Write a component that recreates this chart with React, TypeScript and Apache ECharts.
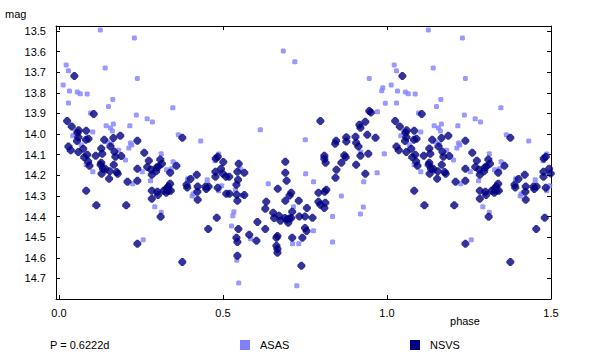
import React, { useEffect, useRef } from "react";
import * as echarts from "echarts";

// ASAS observations: [phase, magnitude] (phase 0..1)
const asasPoints: [number, number][] = [
  [0.126, 13.495], [0.230, 13.534], [0.022, 13.665], [0.029, 13.693], [0.141, 13.680], [0.239, 13.731],
  [0.013, 13.762], [0.032, 13.791], [0.056, 13.796], [0.065, 13.804], [0.086, 13.806], [0.029, 13.850],
  [0.164, 13.833], [0.151, 13.867], [0.236, 13.908], [0.096, 13.898], [0.144, 13.960], [0.166, 13.951],
  [0.157, 13.971], [0.163, 13.985], [0.216, 13.960], [0.042, 14.008], [0.050, 13.990], [0.103, 13.990],
  [0.068, 14.053], [0.148, 14.039], [0.160, 14.047], [0.218, 14.044], [0.222, 14.053], [0.213, 14.068],
  [0.182, 14.078], [0.203, 14.126], [0.083, 14.149], [0.103, 14.183], [0.144, 14.181], [0.225, 14.241],
  [0.347, 13.872], [0.269, 13.926], [0.285, 13.942], [0.364, 14.003], [0.432, 14.034], [0.312, 14.095],
  [0.254, 14.183], [0.348, 14.134], [0.328, 14.173], [0.343, 14.168], [0.279, 14.227], [0.392, 14.217],
  [0.452, 14.222], [0.487, 14.097], [0.476, 14.129], [0.496, 14.251], [0.487, 14.275], [0.410, 14.290],
  [0.406, 14.301], [0.292, 14.353], [0.312, 14.379], [0.257, 14.513],
  [0.684, 13.597], [0.719, 13.649], [0.614, 13.979], [0.751, 14.028], [0.752, 14.193], [0.553, 14.168],
  [0.538, 14.270], [0.559, 14.298], [0.638, 14.241], [0.533, 14.377], [0.530, 14.396], [0.526, 14.446],
  [0.584, 14.508], [0.715, 14.353], [0.712, 14.532], [0.731, 14.532], [0.542, 14.612], [0.548, 14.722],
  [0.725, 14.736],
  [0.946, 13.731], [0.987, 13.775], [0.984, 13.790], [0.995, 13.851], [0.971, 13.892], [0.920, 14.087],
  [0.992, 14.095], [0.970, 14.188], [0.929, 14.231], [0.776, 14.231], [0.861, 14.301], [0.928, 14.354],
  [0.919, 14.388], [0.834, 14.400], [0.776, 14.469], [0.834, 14.523],
];

// NSVS observations: [phase, magnitude] (phase 0..1)
const nsvsPoints: [number, number][] = [
  [0.047, 13.718], [0.106, 13.903], [0.025, 13.937], [0.039, 13.964], [0.060, 13.982], [0.057, 13.994],
  [0.083, 13.984], [0.059, 14.015], [0.055, 14.034], [0.082, 14.028], [0.090, 14.023], [0.138, 14.028],
  [0.166, 14.019], [0.187, 14.008], [0.239, 14.032], [0.029, 14.061], [0.036, 14.078], [0.074, 14.071],
  [0.059, 14.087], [0.129, 14.070], [0.157, 14.061], [0.132, 14.095], [0.169, 14.086], [0.086, 14.100],
  [0.077, 14.112], [0.112, 14.105], [0.172, 14.110], [0.190, 14.107], [0.089, 14.133], [0.093, 14.154],
  [0.129, 14.139], [0.127, 14.149], [0.167, 14.149], [0.134, 14.168], [0.141, 14.168], [0.155, 14.181],
  [0.130, 14.193], [0.176, 14.184], [0.179, 14.193], [0.153, 14.217], [0.239, 14.168], [0.239, 14.227],
  [0.209, 14.231], [0.083, 14.275], [0.114, 14.345], [0.205, 14.345], [0.239, 14.532],
  [0.376, 14.018], [0.260, 14.091], [0.274, 14.129], [0.309, 14.124], [0.314, 14.144], [0.269, 14.160],
  [0.281, 14.173], [0.298, 14.162], [0.303, 14.158], [0.296, 14.181], [0.283, 14.197], [0.339, 14.188],
  [0.358, 14.154], [0.339, 14.241], [0.333, 14.254], [0.328, 14.264], [0.319, 14.275], [0.333, 14.275],
  [0.341, 14.275], [0.327, 14.285], [0.300, 14.280], [0.302, 14.296], [0.283, 14.275], [0.283, 14.314],
  [0.389, 14.246], [0.391, 14.259], [0.401, 14.218], [0.420, 14.197], [0.423, 14.255], [0.422, 14.280],
  [0.423, 14.319], [0.447, 14.254], [0.449, 14.267], [0.456, 14.254], [0.478, 14.118], [0.484, 14.110],
  [0.501, 14.136], [0.477, 14.183], [0.494, 14.168], [0.499, 14.191], [0.477, 14.207], [0.484, 14.261],
  [0.310, 14.401], [0.481, 14.406], [0.455, 14.460], [0.376, 14.620],
  [0.509, 14.207], [0.519, 14.207], [0.548, 14.144], [0.544, 14.183], [0.565, 14.188], [0.546, 14.222],
  [0.541, 14.246], [0.510, 14.290], [0.520, 14.290], [0.542, 14.294], [0.565, 14.296], [0.544, 14.324],
  [0.690, 14.134], [0.690, 14.188], [0.694, 14.227], [0.667, 14.265], [0.708, 14.285], [0.703, 14.298],
  [0.690, 14.324], [0.731, 14.324], [0.632, 14.328], [0.629, 14.362], [0.756, 14.359], [0.653, 14.382],
  [0.711, 14.377], [0.671, 14.396], [0.656, 14.407], [0.689, 14.407], [0.675, 14.420], [0.695, 14.414],
  [0.702, 14.410], [0.708, 14.407], [0.699, 14.430], [0.733, 14.400], [0.750, 14.400], [0.750, 14.456],
  [0.755, 14.470], [0.605, 14.426], [0.629, 14.460], [0.547, 14.460], [0.580, 14.489], [0.541, 14.503],
  [0.544, 14.523], [0.602, 14.518], [0.666, 14.494], [0.663, 14.503], [0.711, 14.503], [0.742, 14.503],
  [0.663, 14.542], [0.666, 14.557], [0.666, 14.576], [0.544, 14.590], [0.739, 14.639],
  [0.797, 13.937], [0.946, 13.888], [0.951, 13.895], [0.934, 13.940], [0.916, 13.955], [0.919, 13.969],
  [0.940, 14.003], [0.965, 14.018], [0.904, 14.013], [0.876, 14.016], [0.876, 14.036], [0.845, 14.032],
  [0.842, 14.047], [0.906, 14.042], [0.913, 14.061], [0.943, 14.095], [0.919, 14.105], [0.809, 14.105],
  [0.809, 14.120], [0.813, 14.139], [0.870, 14.103], [0.874, 14.113], [0.861, 14.139], [0.906, 14.149],
  [0.846, 14.173], [0.843, 14.212], [0.934, 14.193], [0.815, 14.270], [0.810, 14.280], [0.791, 14.285],
  [0.791, 14.328], [0.797, 14.343], [0.812, 14.333], [0.809, 14.359], [0.773, 14.406],
];

const xTicks = [0, 0.5, 1.0, 1.5];
const yTicks = [13.5, 13.6, 13.7, 13.8, 13.9, 14.0, 14.1, 14.2, 14.3, 14.4, 14.5, 14.6, 14.7];
const seriesNames = ["ASAS", "NSVS"];
const periodText = "P = 0.6222d";

const FONT = "'Liberation Sans', Arial, sans-serif";
const ASAS_COLOR = "#8080FF";
const NSVS_COLOR = "#000080";

// phase-folded light curve is shown over 1.5 cycles
function fold(points: [number, number][]): [number, number][] {
  return points.concat(points.filter((p) => p[0] <= 0.5).map((p) => [p[0] + 1, p[1]] as [number, number]));
}

export default function App() {
  const ref = useRef<HTMLDivElement>(null);
  useEffect(() => {
    if (!ref.current) return;
    const chart = echarts.init(ref.current, undefined, { renderer: "svg" });
    const fmt = (v: number) => v.toFixed(1);
    const xBase = {
      type: "value" as const,
      min: -0.009,
      max: 1.5,
      splitLine: { show: false },
      axisLine: { show: true, onZero: false, lineStyle: { color: "#000", width: 1 } },
      axisTick: { show: true, inside: true, length: 4, customValues: xTicks, lineStyle: { color: "#000" } },
    };
    const yBase = {
      type: "value" as const,
      inverse: true,
      min: 13.476,
      max: 14.8,
      splitLine: { show: false },
      axisLine: { show: true, onZero: false, lineStyle: { color: "#000", width: 1 } },
      axisTick: { show: true, inside: true, length: 4, customValues: yTicks, lineStyle: { color: "#000" } },
    };
    const textStyle = { fontFamily: FONT, fontSize: 11, fill: "#000" };
    chart.setOption({
      animation: false,
      backgroundColor: "#fff",
      grid: { left: 56, right: 46, top: 26, bottom: 61, containLabel: false, outerBoundsMode: "none" },
      xAxis: [
        {
          ...xBase,
          position: "bottom",
          axisLabel: { customValues: xTicks, formatter: fmt, color: "#000", fontFamily: FONT, fontSize: 11, margin: 8 },
        },
        { ...xBase, position: "top", axisLabel: { show: false } },
      ],
      yAxis: [
        {
          ...yBase,
          position: "left",
          axisLabel: { customValues: yTicks, formatter: fmt, color: "#000", fontFamily: FONT, fontSize: 11, margin: 10 },
        },
        { ...yBase, position: "right", axisLabel: { show: false } },
      ],
      series: [
        {
          name: seriesNames[0],
          type: "scatter",
          data: fold(asasPoints),
          symbol: "path://M1,0L4,0L5,1L5,4L4,5L1,5L0,4L0,1Z",
          symbolSize: 5,
          itemStyle: { color: ASAS_COLOR },
          clip: true,
        },
        {
          name: seriesNames[1],
          type: "scatter",
          data: fold(nsvsPoints),
          symbol: "path://M3,0L5,0L8,3L8,5L5,8L3,8L0,5L0,3Z",
          symbolSize: 8,
          itemStyle: { color: NSVS_COLOR },
          clip: true,
        },
      ],
      graphic: [
        { type: "text", x: 5, y: 14, style: { ...textStyle, text: "mag", verticalAlign: "middle" } },
        { type: "text", x: 465, y: 321, style: { ...textStyle, text: "phase", align: "center", verticalAlign: "middle" } },
        { type: "text", x: 50, y: 345, style: { ...textStyle, text: periodText, verticalAlign: "middle" } },
        { type: "rect", shape: { x: 240, y: 340, width: 10, height: 10 }, style: { fill: ASAS_COLOR } },
        { type: "text", x: 260, y: 345, style: { ...textStyle, text: seriesNames[0], verticalAlign: "middle" } },
        { type: "rect", shape: { x: 410, y: 340, width: 10, height: 10 }, style: { fill: NSVS_COLOR } },
        { type: "text", x: 430, y: 345, style: { ...textStyle, text: seriesNames[1], verticalAlign: "middle" } },
      ],
    });
    return () => chart.dispose();
  }, []);
  return <div ref={ref} style={{ position: "fixed", left: 0, top: 0, width: 597, height: 360 }} />;
}
